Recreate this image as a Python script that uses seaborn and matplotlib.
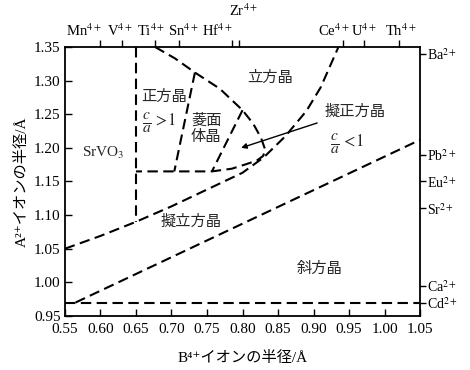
import matplotlib
matplotlib.use("Agg")
import matplotlib.pyplot as plt
import matplotlib.transforms as mtrans
import seaborn as sns
import pandas as pd

# ---------------- data ----------------
x_ticks = [0.55, 0.60, 0.65, 0.70, 0.75, 0.80, 0.85, 0.90, 0.95, 1.00, 1.05]
y_ticks = [0.95, 1.00, 1.05, 1.10, 1.15, 1.20, 1.25, 1.30, 1.35]

b_ions = ["Mn", "V", "Ti", "Sn", "Hf", "Zr", "Ce", "U", "Th"]
b_radii = [0.60, 0.63, 0.677, 0.711, 0.785, 0.795, 0.941, 0.971, 1.02]

a_ions = ["Ba", "Pb", "Eu", "Sr", "Ca", "Cd"]
a_radii = [1.34, 1.19, 1.15, 1.11, 0.995, 0.97]

# phase boundaries
cd_x = [0.55, 1.05]
cd_y = [0.97, 0.97]

ortho_x = [0.565, 1.05]
ortho_y = [0.97, 1.212]

pseudo_x = [0.55, 0.60, 0.65, 0.70, 0.75, 0.80, 0.83, 0.86, 0.89, 0.91, 0.935]
pseudo_y = [1.05, 1.069, 1.09, 1.113, 1.138, 1.163, 1.186, 1.217, 1.255, 1.29, 1.35]

srvo3_x = [0.65, 0.65]
srvo3_y = [1.35, 1.09]

arc_x = [0.677, 0.705, 0.733, 0.768, 0.80, 0.815, 0.826, 0.832, 0.829, 0.82, 0.803, 0.785, 0.757, 0.65]
arc_y = [1.35, 1.333, 1.312, 1.288, 1.256, 1.236, 1.215, 1.197, 1.188, 1.181, 1.175, 1.169, 1.165, 1.165]

tet_x = [0.733, 0.704]
tet_y = [1.312, 1.165]

rho_x = [0.80, 0.757]
rho_y = [1.256, 1.165]

arrow_from = (0.905, 1.237)
arrow_to = (0.798, 1.200)

# ---------------- style ----------------
sns.set_theme(style="ticks")
plt.rcParams["font.family"] = ["Liberation Serif", "Noto Sans CJK JP", "DejaVu Serif"]
plt.rcParams["mathtext.fontset"] = "stix"
plt.rcParams["axes.unicode_minus"] = False

fig = plt.figure(figsize=(4.7, 3.7), dpi=100)
ax = fig.add_axes([0.138, 0.146, 0.756, 0.727])

dash = (0, (5, 2.6))
for xs, ys in [(cd_x, cd_y), (ortho_x, ortho_y), (pseudo_x, pseudo_y),
               (srvo3_x, srvo3_y), (arc_x, arc_y), (tet_x, tet_y), (rho_x, rho_y)]:
    df = pd.DataFrame({"x": xs, "y": ys})
    sns.lineplot(data=df, x="x", y="y", sort=False, estimator=None, ax=ax,
                 color="black", lw=1.5, linestyle=dash)

ax.annotate("", xy=arrow_to, xytext=arrow_from,
            arrowprops=dict(arrowstyle="-|>", color="black", lw=1.0,
                            mutation_scale=8, shrinkA=0, shrinkB=0))

ax.set_xlim(0.55, 1.05)
ax.set_ylim(0.95, 1.35)
ax.set_xticks(x_ticks)
ax.set_xticklabels([f"{v:.2f}" for v in x_ticks], fontsize=11)
ax.set_yticks(y_ticks)
ax.set_yticklabels([f"{v:.2f}" for v in y_ticks], fontsize=11)
ax.tick_params(axis="both", direction="in", length=5, width=1, color="black",
               labelcolor="black", pad=3)
ax.tick_params(axis="x", pad=5)
ax.set_xlabel("B⁴⁺イオンの半径/Å", fontsize=11, color="black", labelpad=11)
ax.set_ylabel("A²⁺イオンの半径/Å", fontsize=11, color="black", labelpad=4)
for s in ax.spines.values():
    s.set_color("black")
    s.set_linewidth(1.3)

# top axis: B ions
axt = ax.twiny()
axt.set_xlim(ax.get_xlim())
axt.set_xticks(b_radii)
axt.set_xticklabels([f"{n}$^{{4+}}$" for n in b_ions], fontsize=10.5)
axt.tick_params(axis="x", direction="out", length=5, width=1, color="black",
                labelcolor="black", pad=1)
label_shift_px = {"Mn": -17, "V": -2, "Ti": -4, "Sn": 4, "Hf": -15,
                  "Zr": 5, "Ce": -9, "U": 0, "Th": 2}
for t, lab, name in zip(axt.xaxis.get_major_ticks(), axt.get_xticklabels(), b_ions):
    if name == "Zr":
        t.tick2line.set_markersize(20)
        t.set_pad(15)
    off = mtrans.ScaledTranslation(label_shift_px[name] / 100.0, 0, fig.dpi_scale_trans)
    lab.set_transform(lab.get_transform() + off)
for s in axt.spines.values():
    s.set_visible(False)

# right axis: A ions
axr = ax.twinx()
axr.set_ylim(ax.get_ylim())
axr.set_yticks(a_radii)
axr.set_yticklabels([f"{n}$^{{2+}}$" for n in a_ions], fontsize=10)
axr.tick_params(axis="y", direction="out", length=4, width=1, color="black",
                labelcolor="black", pad=1)
for s in axr.spines.values():
    s.set_visible(False)

# region labels
fs = 11
ax.text(0.69, 1.276, "正方晶", fontsize=fs, ha="center", va="center")
ax.text(0.666, 1.238, r"$\frac{c}{a}$", fontsize=16, ha="center", va="center")
ax.text(0.674, 1.240, r"$>\!1$", fontsize=12, ha="left", va="center")
ax.text(0.749, 1.229, "菱面\n体晶", fontsize=fs, ha="center", va="center", linespacing=1.2)
ax.text(0.839, 1.304, "立方晶", fontsize=fs, ha="center", va="center")
ax.text(0.959, 1.253, "擬正方晶", fontsize=fs, ha="center", va="center")
ax.text(0.930, 1.207, r"$\frac{c}{a}$", fontsize=16, ha="center", va="center")
ax.text(0.938, 1.209, r"$<\!1$", fontsize=12, ha="left", va="center")
ax.text(0.604, 1.192, "SrVO$_3$", fontsize=fs, ha="center", va="center")
ax.text(0.727, 1.090, "擬立方晶", fontsize=fs, ha="center", va="center")
ax.text(0.909, 1.020, "斜方晶", fontsize=fs, ha="center", va="center")

fig.savefig("out.png", dpi=100, facecolor="white")
